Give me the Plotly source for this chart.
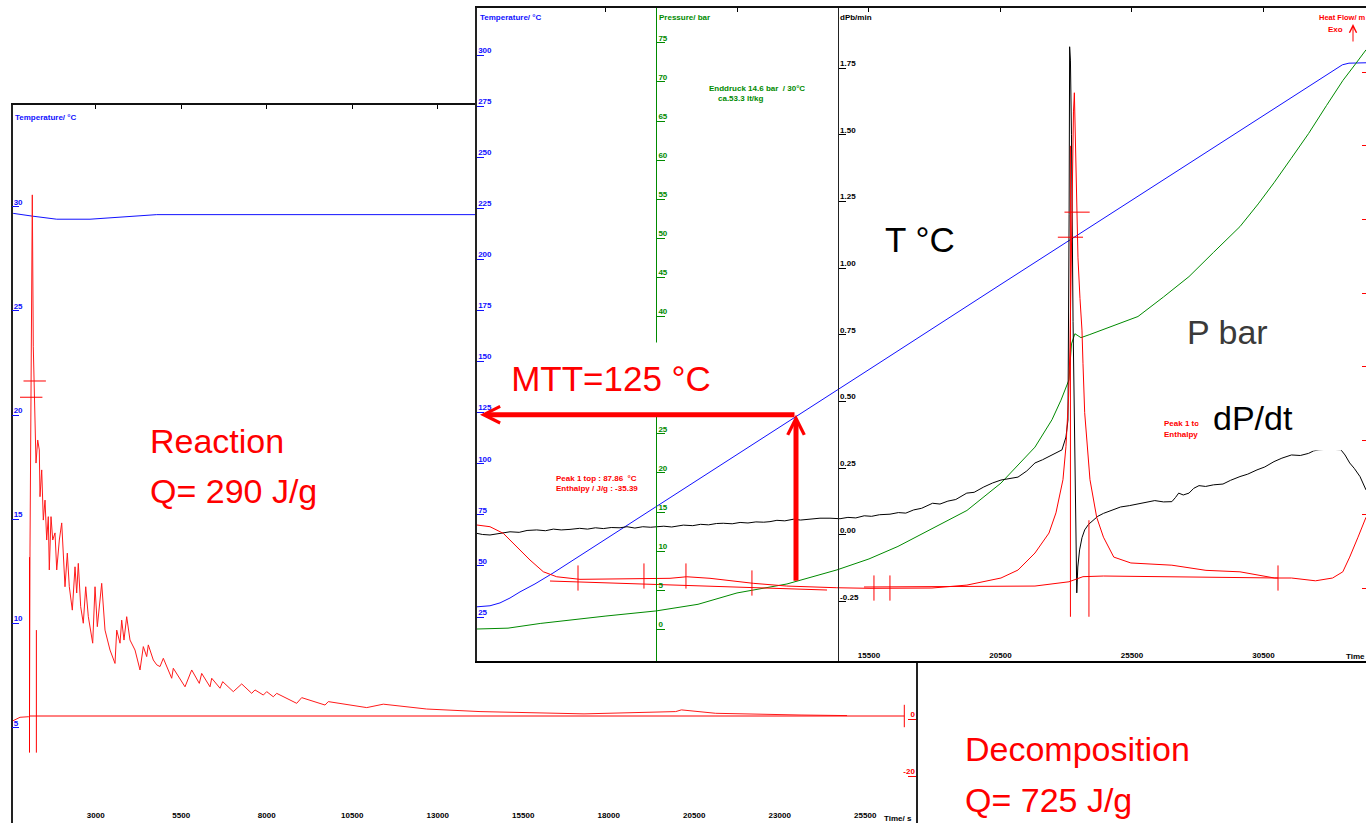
import plotly.graph_objects as go

W, H = 1366, 823

# ---------------- front chart: decomposition run (ramp 0.5 K/min) ----------------
front_time_ticks = [5500, 10500, 15500, 20500, 25500, 30500]
front_temp_ticks = [25, 50, 75, 100, 125, 150, 175, 200, 225, 250, 275, 300]
front_pres_ticks = [0, 5, 10, 15, 20, 25, 40, 45, 50, 55, 60, 65, 70, 75]
front_dpdt_ticks = [-0.25, 0.0, 0.25, 0.5, 0.75, 1.0, 1.25, 1.5, 1.75]
front_dpdt_labels = ["-0.25", "0.00", "0.25", "0.50", "0.75", "1.00", "1.25", "1.50", "1.75"]
front_hf_ticks = [0, 1, 2, 3, 4, 5, 6, 7]

# (time / s, temperature / degC)
front_temp = [(597, 30.0), (1091, 30.5), (1471, 31.9), (1852, 34.3), (2232, 37.3),
              (2802, 41.2), (3486, 46.5), (5387, 62.2), (10482, 104.5), (12763, 123.4),
              (15539, 146.4), (20482, 187.5), (23105, 209.2), (28314, 252.5),
              (32600, 288.0), (33000, 291.4), (33257, 293.6), (33500, 295.2),
              (33750, 296.0), (34000, 296.2), (34398, 296.2)]

# (time / s, pressure / bar)
front_pres = [(597, 0.04), (1776, 0.15), (3000, 0.75), (4133, 1.2), (5500, 1.7),
              (7402, 2.35), (9000, 3.2), (10482, 4.65), (12383, 5.8), (14283, 7.6),
              (15500, 9.0), (16602, 10.6), (18000, 13.0), (19225, 15.2), (20519, 18.7),
              (21200, 21.1), (21812, 23.3), (22458, 26.8), (22800, 29.3), (23105, 31.9),
              (23200, 36.5), (23330, 37.8), (23560, 37.3), (23900, 37.7), (24600, 38.6),
              (25728, 40.0), (26700, 42.5), (27667, 45.1), (28600, 48.2), (29606, 51.5),
              (30300, 54.4), (30899, 57.1), (31550, 60.2), (32215, 63.4), (32900, 67.0),
              (33523, 70.2), (34000, 72.3), (34398, 74.1)]

# (time / s, dPb/min)
front_dpdt = [(597, 0.006), (800, 0.002), (1091, 0.000), (1400, 0.005), (1852, 0.012),
              (2200, 0.010), (2500, 0.017), (2867, 0.019), (3200, 0.016), (3500, 0.022),
              (3800, 0.019), (4133, 0.021), (4500, 0.025), (4800, 0.022), (5100, 0.027),
              (5400, 0.024), (5700, 0.028), (6034, 0.027), (6300, 0.031), (6600, 0.026),
              (6900, 0.031), (7200, 0.029), (7429, 0.031), (7700, 0.033), (8000, 0.030),
              (8441, 0.037), (8800, 0.035), (9100, 0.040), (9400, 0.038), (9700, 0.043),
              (9961, 0.044), (10300, 0.042), (10600, 0.047), (10900, 0.045), (11200, 0.049),
              (11500, 0.048), (11737, 0.050), (12000, 0.055), (12300, 0.053), (12623, 0.059),
              (12900, 0.056), (13200, 0.060), (13638, 0.063), (14018, 0.063), (14400, 0.061),
              (14700, 0.066), (15000, 0.064), (15319, 0.072), (15600, 0.070), (15900, 0.076),
              (16300, 0.078), (16619, 0.084), (16900, 0.082), (17200, 0.094), (17500, 0.100),
              (17919, 0.119), (18200, 0.116), (18500, 0.127), (18800, 0.133), (19219, 0.157),
              (19500, 0.160), (19865, 0.180), (20200, 0.195), (20519, 0.206), (20800, 0.210),
              (21166, 0.217), (21500, 0.240), (21812, 0.270), (22100, 0.282), (22458, 0.300),
              (22700, 0.310), (22838, 0.319), (22990, 0.367), (23066, 0.431), (23110, 1.20),
              (23130, 1.83), (23160, 1.78), (23200, 1.50), (23260, 0.80), (23330, 0.20),
              (23380, -0.15), (23401, -0.217), (23440, -0.12), (23508, -0.056), (23600, -0.010),
              (23702, 0.019), (23850, 0.040), (24025, 0.056), (24200, 0.070), (24416, 0.081),
              (24700, 0.092), (25067, 0.105), (25400, 0.110), (25717, 0.116), (26000, 0.120),
              (26367, 0.129), (26700, 0.124), (27017, 0.125), (27150, 0.140), (27276, 0.157),
              (27450, 0.150), (27667, 0.157), (27850, 0.175), (28048, 0.185), (28300, 0.182),
              (28600, 0.188), (28960, 0.191), (29250, 0.205), (29606, 0.219), (29900, 0.228),
              (30253, 0.244), (30550, 0.255), (30899, 0.275), (31200, 0.288), (31564, 0.300),
              (31900, 0.298), (32215, 0.306), (32400, 0.315), (32610, 0.319), (33000, 0.322),
              (33447, 0.319), (33600, 0.300), (33778, 0.270), (33950, 0.250), (34170, 0.219),
              (34398, 0.169)]

# (time / s, heat flow, arbitrary units)
front_hf = [(597, 0.855), (1091, 0.832), (1597, 0.742), (2106, 0.56), (2612, 0.38),
            (3118, 0.221), (3627, 0.153), (4513, 0.118), (5700, 0.12), (6920, 0.132),
            (7935, 0.132), (8570, 0.153), (9456, 0.132), (11102, 0.064), (12372, 0.027),
            (14273, 0.004), (15539, -0.004), (17896, 0.0), (19225, 0.04), (20519, 0.136),
            (21166, 0.244), (21812, 0.475), (22344, 0.746), (22610, 1.02), (22876, 1.47),
            (22990, 1.92), (23089, 2.59), (23143, 3.27), (23219, 5.27), (23276, 6.46),
            (23310, 6.72), (23371, 5.54), (23447, 4.48), (23523, 3.93), (23599, 3.5),
            (23637, 3.05), (23702, 2.38), (23903, 1.47), (24158, 0.96), (24416, 0.69),
            (24808, 0.42), (25458, 0.34), (27017, 0.31), (28314, 0.24), (29606, 0.22),
            (30918, 0.136), (31564, 0.136), (32477, 0.098), (33128, 0.136), (33516, 0.22),
            (33778, 0.42), (34094, 0.69), (34398, 0.96)]
front_base1 = [(3372, 0.095), (13906, -0.027)]
front_base2 = [(15311, 0.014), (19225, 0.018), (21812, 0.027), (23105, 0.085),
               (23637, 0.154), (24416, 0.163), (27017, 0.154), (29606, 0.145), (31052, 0.136)]
front_limits = [(23160, -0.39, 6.0), (23864, -0.39, 0.92)]
front_ticks_ns = [(4437, 0.136), (6945, 0.163), (8542, 0.163), (11051, 0.068),
                  (15690, 0.0), (16298, 0.0), (31052, 0.136)]
front_ticks_ew = [(23413, 5.10), (23160, 4.76)]

# ---------------- back chart: reaction run (isothermal ~30 degC) ----------------
back_time_ticks = [3000, 5500, 8000, 10500, 13000, 15500, 18000, 20500, 23000, 25500]
back_temp_ticks = [5, 10, 15, 20, 25, 30]
back_hf_ticks = [-20, 0, 20]
back_hf_labels = ["-20", "0", ""]

back_temp = [(567, 29.70), (591, 29.68), (1137, 29.55), (1860, 29.40), (2833, 29.40),
             (4199, 29.55), (4784, 29.62), (26985, 29.62)]
back_hf = [(567, -0.7), (787, 0.6), (1029, 0.8), (1064, 0.8), (1079, 60.0), (1108, 102.6),
           (1146, 183.9), (1175, 130.6), (1225, 99.1), (1254, 89.8), (1304, 97.9),
           (1351, 94.4), (1371, 78.0), (1421, 87.4), (1468, 69.8), (1518, 76.8),
           (1567, 62.8), (1614, 71.0), (1643, 52.3), (1693, 71.0), (1743, 62.8),
           (1810, 65.3), (1860, 52.3), (1936, 62.8), (2006, 68.8), (2035, 60.5),
           (2102, 46.4), (2170, 58.2), (2228, 46.4), (2316, 38.2), (2395, 53.4),
           (2444, 44.2), (2491, 54.6), (2561, 39.4), (2637, 33.6), (2708, 46.4),
           (2784, 35.9), (2912, 26.6), (2980, 46.4), (3047, 32.4), (3175, 47.6),
           (3272, 31.2), (3418, 24.2), (3564, 19.5), (3614, 31.2), (3711, 26.6),
           (3760, 34.7), (3827, 27.7), (3906, 35.9), (4003, 27.7), (4149, 24.2),
           (4295, 17.2), (4392, 25.4), (4491, 21.9), (4538, 26.0), (4684, 20.7),
           (4784, 19.0), (4880, 18.4), (4977, 21.3), (5222, 14.3), (5269, 17.8),
           (5611, 11.3), (5807, 17.2), (6029, 12.5), (6099, 16.0), (6342, 11.3),
           (6392, 14.3), (6635, 10.8), (6713, 13.1), (7023, 9.6), (7269, 12.3),
           (7561, 9.0), (7658, 10.2), (7901, 8.4), (8000, 9.6), (8193, 7.8), (8292, 9.0),
           (8877, 5.5), (9023, 7.5), (9705, 4.9), (9801, 6.1), (10924, 4.0), (11409, 5.2),
           (12678, 3.5), (14237, 2.6), (17278, 1.8), (19959, 2.6), (20126, 3.2),
           (21129, 2.0), (23623, 1.4), (24968, 1.2)]
back_base = [(1064, 1.05), (26643, 1.05)]
back_limits = [(1064, -11.8, 56.8), (1265, -11.8, 31.2)]
back_ticks_ew = [(1216, 118.6), (1114, 112.9)]
back_ticks_ns = [(26643, 1.05)]

# ---------------- annotation values ----------------
mtt_time, mtt_temp, mtt_start_temp = 12726, 124, 42
mtt_tip_time = 711

RED, BLUE, GREEN, BLACK = "#ff0000", "#1010ff", "#008a00", "#000000"
SMALL = "Liberation Sans"
BIG = "Liberation Sans, Arial, sans-serif"


def unzip(pairs):
    return [p[0] for p in pairs], [p[1] for p in pairs]


def px(x):
    return x / W


def py(y):
    return 1 - y / H


fig = go.Figure()


def line(pairs, xa, ya, color, width=1.0):
    x, y = unzip(pairs)
    fig.add_trace(go.Scatter(x=x, y=y, xaxis=xa, yaxis=ya, mode="lines",
                             line=dict(color=color, width=width),
                             hoverinfo="skip", showlegend=False))


def vlines(triples, xa, ya, color):
    xs, ys = [], []
    for t, lo, hi in triples:
        xs += [t, t, None]
        ys += [lo, hi, None]
    fig.add_trace(go.Scatter(x=xs, y=ys, xaxis=xa, yaxis=ya, mode="lines",
                             line=dict(color=color, width=1), hoverinfo="skip",
                             showlegend=False))


def marks(pairs, xa, ya, symbol, size):
    x, y = unzip(pairs)
    fig.add_trace(go.Scatter(x=x, y=y, xaxis=xa, yaxis=ya, mode="markers",
                             marker=dict(symbol=symbol, size=size,
                                         line=dict(color=RED, width=1), color=RED),
                             hoverinfo="skip", showlegend=False))


# back chart traces
line(back_temp, "x", "y", BLUE)
line(back_hf, "x", "y6", "#ff1a1a")
line(back_base, "x", "y6", RED)
vlines(back_limits, "x", "y6", RED)
marks(back_ticks_ew, "x", "y6", "line-ew-open", 16)
marks(back_ticks_ns, "x", "y6", "line-ns-open", 16)
fig.add_trace(go.Scatter(x=[None], y=[None], xaxis="x5", yaxis="y", showlegend=False))

# front chart traces
line(front_temp, "x2", "y2", BLUE)
line(front_pres, "x2", "y3", GREEN)
line(front_dpdt, "x2", "y4", BLACK)
line(front_hf, "x2", "y5", RED)
line(front_base1, "x2", "y5", RED)
line(front_base2, "x2", "y5", RED)
vlines(front_limits, "x2", "y5", RED)
marks(front_ticks_ns, "x2", "y5", "line-ns-open", 18)
marks(front_ticks_ew, "x2", "y5", "line-ew-open", 18)
fig.add_trace(go.Scatter(x=[None], y=[None], xaxis="x6", yaxis="y2", showlegend=False))

# axis geometry
back_xr = [567, 26985]
front_xr = [597, 34398]
front_tr = [3.48, 323.0]
bdx = [12.5 / W, 916 / W]
bdy = [0.0, py(105)]
fdx = [477 / W, 1.0]
fdy = [py(661), py(8)]

base = dict(showgrid=False, zeroline=False)
tf = lambda c: dict(family=SMALL, size=8, color=c, weight="bold")

layout = dict(
    width=W, height=H, autosize=False,
    margin=dict(l=0, r=0, t=0, b=0, pad=0),
    paper_bgcolor="white", plot_bgcolor="white",
    showlegend=False, hovermode=False,
    # back chart
    xaxis=dict(base, domain=bdx, range=back_xr, anchor="y", tickvals=back_time_ticks,
               tickformat="d", ticks="", showline=False, ticklabelposition="inside",
               tickfont=tf(BLACK)),
    xaxis5=dict(base, overlaying="x", anchor="y", side="top", range=back_xr,
                tickvals=back_time_ticks, ticks="inside", ticklen=4, tickcolor=BLACK,
                showticklabels=False, showline=True, linecolor="#111", linewidth=1.5),
    yaxis=dict(base, domain=bdy, range=[0.43, 34.88], anchor="x", tickvals=back_temp_ticks,
               showline=True, linecolor="#222", linewidth=1.5, ticks="inside", ticklen=7,
               tickcolor=BLUE, ticklabelposition="inside", ticklabelstandoff=-7,
               ticklabelshift=-5, tickfont=tf(BLUE)),
    yaxis6=dict(base, overlaying="y", anchor="x", side="right", range=[-36.49, 215.44],
                tickvals=back_hf_ticks, ticktext=back_hf_labels, showline=True,
                linecolor="#222", linewidth=1.5,
                ticks="inside", ticklen=8, tickcolor=RED, ticklabelposition="inside",
                ticklabelstandoff=-8, ticklabelshift=-5, tickfont=tf(RED)),
    # front chart
    xaxis2=dict(base, domain=fdx, range=front_xr, anchor="y2", tickvals=front_time_ticks,
                tickformat="d", ticks="", showline=True, linecolor=BLACK, linewidth=1.7,
                ticklabelposition="inside", tickfont=tf(BLACK)),
    xaxis6=dict(base, overlaying="x2", anchor="y2", side="top", range=front_xr,
                tickvals=front_time_ticks, ticks="inside", ticklen=4, tickcolor=BLACK,
                showticklabels=False, showline=True, linecolor="#111", linewidth=1.5),
    yaxis2=dict(base, domain=fdy, range=front_tr, anchor="x2", tickvals=front_temp_ticks,
                showline=True, linecolor="#222", linewidth=1.5, ticks="inside", ticklen=7,
                tickcolor=BLUE, ticklabelposition="inside", ticklabelstandoff=-7,
                ticklabelshift=-5, tickfont=tf(BLUE)),
    yaxis3=dict(base, overlaying="y2", anchor="free", position=656 / W, side="left",
                range=[-4.05, 79.45], tickvals=front_pres_ticks, showline=True,
                linecolor=GREEN, linewidth=1, ticks="inside", ticklen=8, tickcolor=GREEN,
                ticklabelposition="inside", ticklabelstandoff=-8, ticklabelshift=-5,
                tickfont=tf(GREEN)),
    yaxis4=dict(base, overlaying="y2", anchor="free", position=837.7 / W, side="left",
                range=[-0.4723, 1.9753], tickvals=front_dpdt_ticks,
                ticktext=front_dpdt_labels, showline=True, linecolor="#222", linewidth=1,
                ticks="inside", ticklen=7, tickcolor=BLACK, ticklabelposition="inside",
                ticklabelstandoff=-7, ticklabelshift=-5, tickfont=tf(BLACK)),
    yaxis5=dict(base, overlaying="y2", anchor="free", position=1.0, side="right",
                range=[-0.99, 7.87], tickvals=front_hf_ticks, showline=False,
                ticks="inside", ticklen=4, tickcolor=RED, showticklabels=False),
)
fig.update_layout(**layout)

# white sheet of the front chart (drawn in the front subplot, above back chart)
fig.add_shape(type="rect", xref="x2", yref="y2", x0=front_xr[0], x1=front_xr[1],
              y0=front_tr[0], y1=front_tr[1], fillcolor="white", line=dict(width=0),
              layer="below")


def note(text, x, y, color, size=8, bold=True, xanchor="left", family=SMALL, **kw):
    fig.add_annotation(text=text, x=px(x), y=py(y), xref="paper", yref="paper",
                       xanchor=xanchor, yanchor="middle", showarrow=False,
                       font=dict(family=family, size=size, color=color,
                                 weight="bold" if bold else "normal"), **kw)


# small axis titles / software texts
note("Temperature/ °C", 478, 17, BLUE)
note("Pressure/ bar", 657, 17, GREEN)
note("dPb/min", 838, 17, BLACK)
note("Heat Flow/ m", 1317, 17, RED, size=7.5)
note("Exo", 1335, 29, RED, xanchor="center")
note("Temperature/ °C", 12.5, 117, BLUE)
note("Enddruck 14.6 bar  / 30°C", 707, 88, GREEN)
note("ca.53.3 lt/kg", 716, 98, GREEN)
note("Peak 1 top : 87.86  °C", 554, 478, RED)
note("Enthalpy / J/g : -35.39", 554, 488, RED)
note("Peak 1 to", 1162, 424, RED)
note("Enthalpy", 1162, 434, RED)
note("Time/ s", 882, 818, BLACK)
note("Time", 1344, 656, BLACK)

# Exo arrow
fig.add_annotation(x=px(1353), y=py(24), xref="paper", yref="paper", ax=0, ay=19,
                   text="", showarrow=True, arrowhead=5, arrowsize=1.4, arrowwidth=1,
                   arrowcolor=RED)

# white box behind dP/dt label
fig.add_annotation(x=px(1270), y=py(421), xref="paper", yref="paper", text="&nbsp;",
                   showarrow=False, width=142, height=58, borderpad=0, bgcolor="white",
                   xanchor="center", yanchor="middle")

# big slide texts
note("MTT=125 °C", 611, 378, RED, size=35, bold=False, xanchor="center", family=BIG,
     bgcolor="white", width=222, height=70, borderpad=0)
note("Reaction", 148, 441, RED, size=34, bold=False, family=BIG)
note("Q= 290 J/g", 148, 491, RED, size=34, bold=False, family=BIG)
note("Decomposition", 963, 749, RED, size=34, bold=False, family=BIG)
note("Q= 725 J/g", 963, 800, RED, size=34, bold=False, family=BIG)
note("T °C", 920, 240, BLACK, size=35, bold=False, xanchor="center", family=BIG)
note("P bar", 1227, 332, "#3a3a3a", size=34, bold=False, xanchor="center", family=BIG)
note("dP/dt", 1253, 418, BLACK, size=34, bold=False, xanchor="center", family=BIG)

# MTT arrows
fig.add_annotation(x=mtt_tip_time, y=mtt_temp, ax=mtt_time, ay=mtt_temp, xref="x2",
                   yref="y2", axref="x2", ayref="y2", text="", showarrow=True,
                   arrowhead=5, arrowsize=0.65, arrowwidth=5, arrowcolor=RED)
fig.add_annotation(x=mtt_time, y=mtt_temp, ax=mtt_time, ay=mtt_start_temp, xref="x2",
                   yref="y2", axref="x2", ayref="y2", text="", showarrow=True,
                   arrowhead=5, arrowsize=0.65, arrowwidth=5, arrowcolor=RED)

fig.write_html("out.html")
